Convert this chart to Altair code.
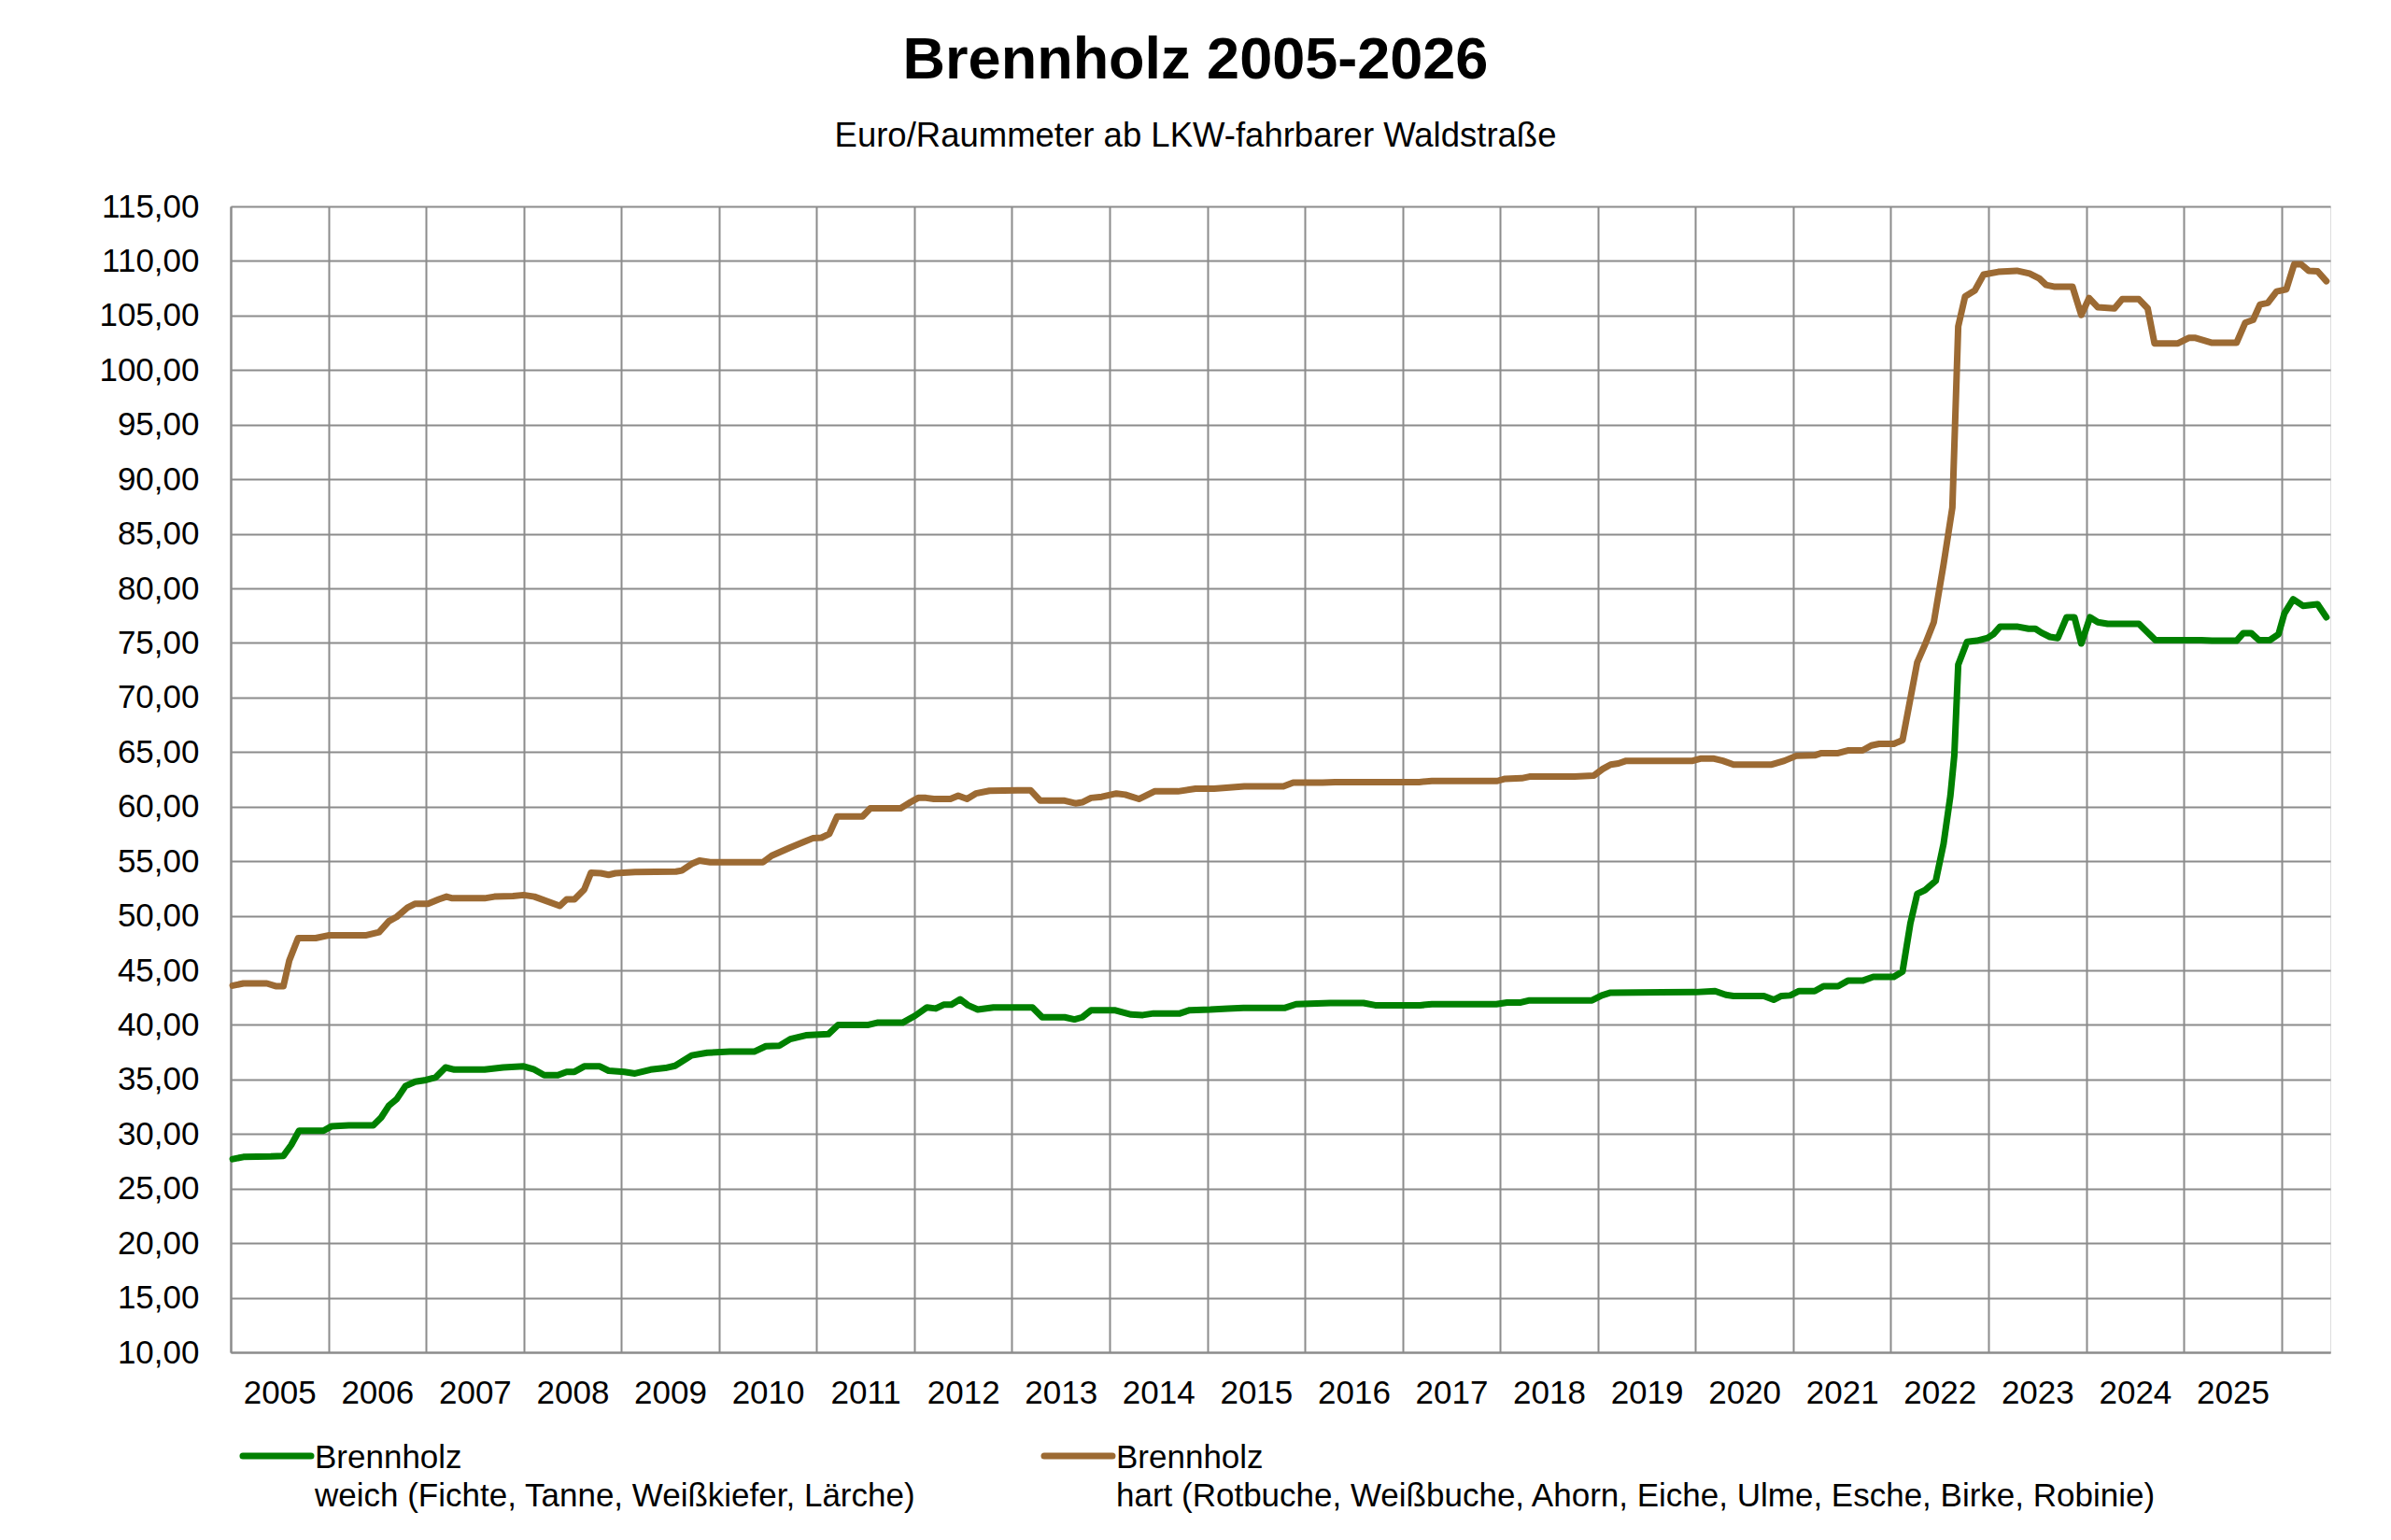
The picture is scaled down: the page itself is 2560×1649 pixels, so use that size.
import pandas as pd
import altair as alt

# Brennholz weich (Fichte, Tanne, Weißkiefer, Lärche) - Stützpunkte (Jahr, Euro/rm)
jahr_weich = [
    2005.02, 2005.13, 2005.41, 2005.54, 2005.62, 2005.70, 2005.95, 2006.03, 2006.21, 2006.46,
    2006.54, 2006.62, 2006.70, 2006.79, 2006.89, 2007.00, 2007.10, 2007.20, 2007.29, 2007.60,
    2007.79, 2008.00, 2008.10, 2008.21, 2008.35, 2008.44, 2008.52, 2008.62, 2008.78, 2008.87,
    2009.03, 2009.14, 2009.30, 2009.45, 2009.55, 2009.72, 2009.88, 2010.11, 2010.36, 2010.48,
    2010.62, 2010.73, 2010.89, 2011.12, 2011.22, 2011.53, 2011.62, 2011.88, 2012.01, 2012.13,
    2012.22, 2012.30, 2012.38, 2012.47, 2012.55, 2012.65, 2012.81, 2013.21, 2013.31, 2013.54,
    2013.64, 2013.72, 2013.81, 2014.05, 2014.22, 2014.34, 2014.45, 2014.72, 2014.82, 2015.03,
    2015.21, 2015.37, 2015.79, 2015.91, 2016.26, 2016.60, 2016.72, 2017.18, 2017.30, 2017.96,
    2018.07, 2018.21, 2018.30, 2018.94, 2019.04, 2019.13, 2020.00, 2020.20, 2020.31, 2020.39,
    2020.70, 2020.80, 2020.88, 2020.97, 2021.06, 2021.22, 2021.31, 2021.46, 2021.56, 2021.71,
    2021.82, 2022.03, 2022.12, 2022.20, 2022.27, 2022.35, 2022.46, 2022.54, 2022.61, 2022.65,
    2022.69, 2022.78, 2022.88, 2022.99, 2023.05, 2023.12, 2023.29, 2023.41, 2023.48, 2023.54,
    2023.63, 2023.71, 2023.80, 2023.88, 2023.95, 2024.04, 2024.12, 2024.22, 2024.54, 2024.71,
    2025.18, 2025.29, 2025.54, 2025.61, 2025.69, 2025.77, 2025.88, 2025.97, 2026.03, 2026.12,
    2026.22, 2026.37, 2026.46,
]
preis_weich = [
    27.70, 27.90, 27.95, 28.00, 29.00, 30.30, 30.30, 30.70, 30.80, 30.80,
    31.50, 32.60, 33.20, 34.40, 34.80, 34.95, 35.20, 36.10, 35.90, 35.90,
    36.10, 36.20, 35.95, 35.40, 35.40, 35.70, 35.70, 36.20, 36.20, 35.80,
    35.70, 35.55, 35.90, 36.05, 36.25, 37.20, 37.45, 37.55, 37.55, 38.05,
    38.10, 38.70, 39.05, 39.15, 40.00, 40.00, 40.20, 40.20, 40.85, 41.60,
    41.50, 41.85, 41.85, 42.35, 41.80, 41.40, 41.60, 41.60, 40.70, 40.70,
    40.50, 40.70, 41.35, 41.35, 40.95, 40.90, 41.05, 41.05, 41.35, 41.40,
    41.50, 41.55, 41.55, 41.90, 42.00, 42.00, 41.80, 41.80, 41.90, 41.90,
    42.05, 42.05, 42.25, 42.25, 42.70, 42.95, 43.00, 43.10, 42.75, 42.65,
    42.65, 42.30, 42.65, 42.70, 43.10, 43.10, 43.55, 43.55, 44.05, 44.05,
    44.40, 44.40, 44.90, 49.30, 52.00, 52.35, 53.20, 56.60, 61.00, 64.70,
    73.00, 75.10, 75.20, 75.45, 75.80, 76.50, 76.50, 76.30, 76.30, 75.95,
    75.55, 75.45, 77.35, 77.35, 74.95, 77.35, 76.90, 76.75, 76.75, 75.25,
    75.25, 75.20, 75.20, 75.90, 75.90, 75.25, 75.25, 75.80, 77.70, 79.00,
    78.40, 78.55, 77.35,
]

# Brennholz hart (Rotbuche, Weißbuche, Ahorn, Eiche, Ulme, Esche, Birke, Robinie)
jahr_hart = [
    2005.02, 2005.13, 2005.37, 2005.46, 2005.54, 2005.60, 2005.69, 2005.87, 2006.00, 2006.38,
    2006.52, 2006.62, 2006.70, 2006.81, 2006.89, 2007.02, 2007.13, 2007.21, 2007.27, 2007.60,
    2007.70, 2007.89, 2008.00, 2008.11, 2008.37, 2008.44, 2008.52, 2008.62, 2008.69, 2008.79,
    2008.87, 2008.94, 2009.14, 2009.56, 2009.62, 2009.72, 2009.80, 2009.91, 2010.45, 2010.54,
    2010.73, 2010.88, 2010.96, 2011.05, 2011.13, 2011.21, 2011.47, 2011.55, 2011.86, 2011.96,
    2012.04, 2012.12, 2012.20, 2012.37, 2012.45, 2012.54, 2012.63, 2012.77, 2013.06, 2013.19,
    2013.29, 2013.54, 2013.65, 2013.72, 2013.81, 2013.92, 2014.07, 2014.16, 2014.30, 2014.46,
    2014.70, 2014.88, 2015.07, 2015.38, 2015.78, 2015.88, 2016.18, 2016.31, 2017.17, 2017.30,
    2017.97, 2018.05, 2018.22, 2018.30, 2018.76, 2018.96, 2019.05, 2019.13, 2019.21, 2019.29,
    2019.97, 2020.05, 2020.19, 2020.28, 2020.39, 2020.78, 2020.91, 2021.03, 2021.22, 2021.29,
    2021.46, 2021.56, 2021.71, 2021.80, 2021.88, 2022.03, 2022.12, 2022.27, 2022.35, 2022.44,
    2022.54, 2022.63, 2022.69, 2022.76, 2022.86, 2022.95, 2023.10, 2023.29, 2023.42, 2023.52,
    2023.59, 2023.67, 2023.86, 2023.95, 2024.03, 2024.12, 2024.29, 2024.37, 2024.54, 2024.63,
    2024.70, 2024.94, 2025.05, 2025.12, 2025.29, 2025.54, 2025.63, 2025.71, 2025.78, 2025.86,
    2025.95, 2026.05, 2026.13, 2026.20, 2026.28, 2026.37, 2026.46,
]
preis_hart = [
    43.60, 43.80, 43.80, 43.55, 43.55, 45.90, 47.95, 47.95, 48.20, 48.20,
    48.50, 49.50, 49.90, 50.75, 51.10, 51.10, 51.50, 51.75, 51.60, 51.60,
    51.75, 51.80, 51.90, 51.75, 50.90, 51.50, 51.50, 52.40, 53.95, 53.90,
    53.75, 53.90, 54.00, 54.05, 54.15, 54.75, 55.05, 54.90, 54.90, 55.50,
    56.25, 56.80, 57.10, 57.15, 57.50, 59.10, 59.10, 59.85, 59.85, 60.40,
    60.80, 60.80, 60.70, 60.70, 61.00, 60.70, 61.20, 61.45, 61.50, 61.50,
    60.55, 60.55, 60.30, 60.40, 60.80, 60.90, 61.20, 61.10, 60.70, 61.40,
    61.40, 61.65, 61.65, 61.85, 61.85, 62.20, 62.20, 62.25, 62.25, 62.35,
    62.35, 62.55, 62.60, 62.75, 62.75, 62.85, 63.45, 63.85, 63.95, 64.20,
    64.20, 64.40, 64.40, 64.20, 63.85, 63.85, 64.20, 64.65, 64.70, 64.90,
    64.90, 65.15, 65.15, 65.60, 65.75, 65.75, 66.10, 73.20, 74.85, 76.90,
    82.20, 87.40, 104.00, 106.75, 107.30, 108.75, 109.00, 109.10, 108.85, 108.40,
    107.80, 107.65, 107.65, 105.05, 106.60, 105.75, 105.65, 106.50, 106.50, 105.65,
    102.45, 102.45, 102.95, 102.95, 102.50, 102.50, 104.35, 104.60, 106.00, 106.15,
    107.20, 107.40, 109.70, 109.70, 109.10, 109.05, 108.15,
]

sorten = [
    "Brennholz\nweich (Fichte, Tanne, Weißkiefer, Lärche)",
    "Brennholz\nhart (Rotbuche, Weißbuche, Ahorn, Eiche, Ulme, Esche, Birke, Robinie)",
]
farben = ["#008000", "#9C6A33"]
jahre_achse = list(range(2005, 2027))
werte_achse = list(range(10, 116, 5))

FONT = "Liberation Sans"
GRID = "#8c8c8c"

df = pd.concat([
    pd.DataFrame({"jahr": jahr_weich, "preis": preis_weich, "sorte": sorten[0]}),
    pd.DataFrame({"jahr": jahr_hart, "preis": preis_hart, "sorte": sorten[1]}),
], ignore_index=True)

W, H = 2248, 1227

linien = alt.Chart(df).mark_line(strokeWidth=7, strokeJoin="round", strokeCap="round").encode(
    x=alt.X("jahr:Q",
            scale=alt.Scale(domain=[2005, 2026.5], nice=False, zero=False),
            axis=alt.Axis(values=jahre_achse, format="d",
                          labelExpr="datum.value > 2025 ? '' : datum.label",
                          labelOffset=W / 21.5 / 2, labelFlush=False, labelOverlap=False,
                          labelFont=FONT, labelFontSize=35, labelColor="black",
                          labelPadding=26, ticks=False, grid=True,
                          gridColor=GRID, gridWidth=2, gridOpacity=1,
                          domainColor=GRID, domainWidth=2, title=None)),
    y=alt.Y("preis:Q",
            scale=alt.Scale(domain=[10, 115], nice=False, zero=False),
            axis=alt.Axis(values=werte_achse,
                          labelExpr="replace(format(datum.value, '.2f'), '.', ',')",
                          labelFlush=False, labelOverlap=False,
                          labelFont=FONT, labelFontSize=35, labelColor="black",
                          labelPadding=34, ticks=False, grid=True,
                          gridColor=GRID, gridWidth=2, gridOpacity=1,
                          domainColor=GRID, domainWidth=2, title=None)),
    color=alt.Color("sorte:N", scale=alt.Scale(domain=sorten, range=farben), legend=None),
    detail="sorte:N",
)

# Legende unten, von Hand gesetzt (zweizeilige Beschriftung)
legende = []
for name, farbe, x0 in zip(sorten, farben, [13, 871]):
    legende.append(
        alt.Chart(pd.DataFrame({"sorte": [name]})).mark_rule(
            strokeWidth=7, strokeCap="round", color=farbe
        ).encode(x=alt.value(x0), x2=alt.value(x0 + 73), y=alt.value(1338))
    )
    legende.append(
        alt.Chart(pd.DataFrame({"sorte": [name]})).mark_text(
            align="left", baseline="top", font=FONT, fontSize=35,
            lineBreak="\n", lineHeight=41, color="black"
        ).encode(text="sorte:N", x=alt.value(x0 + 77), y=alt.value(1323))
    )

chart = alt.layer(linien, *legende).properties(
    width=W,
    height=H,
    autosize=alt.AutoSizeParams(type="none"),
    padding={"left": 239, "top": 213, "right": 57, "bottom": 193},
    title=alt.TitleParams(
        text="Brennholz 2005-2026",
        subtitle="Euro/Raummeter ab LKW-fahrbarer Waldstraße",
        font=FONT, fontSize=63, fontWeight="bold", color="black",
        subtitleFont=FONT, subtitleFontSize=36.5, subtitleColor="black",
        subtitlePadding=31, anchor="middle", frame="group", dx=-91, offset=40,
    ),
).configure_view(strokeWidth=0).configure(background="white")

chart.save("out.html", embed_options={"renderer": "svg", "actions": False})
